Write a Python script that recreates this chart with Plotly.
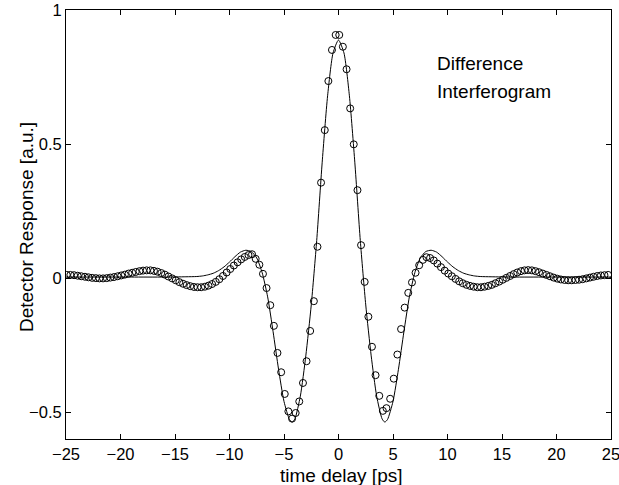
import plotly.graph_objects as go

# measured data (circles)
delay_ps = [
    -24.93, -24.60, -24.26, -23.93, -23.60, -23.26, -22.93, -22.60, -22.26, -21.93,
    -21.60, -21.26, -20.93, -20.60, -20.26, -19.93, -19.60, -19.26, -18.93, -18.60,
    -18.26, -17.93, -17.60, -17.26, -16.93, -16.60, -16.26, -15.93, -15.60, -15.26,
    -14.93, -14.60, -14.26, -13.93, -13.60, -13.26, -12.93, -12.60, -12.26, -11.93,
    -11.60, -11.26, -10.93, -10.60, -10.26, -9.93, -9.60, -9.26, -8.93, -8.60,
    -8.26, -7.93, -7.60, -7.26, -6.93, -6.60, -6.26, -5.93, -5.60, -5.26,
    -4.93, -4.60, -4.26, -3.93, -3.60, -3.26, -2.93, -2.60, -2.26, -1.93,
    -1.60, -1.26, -0.93, -0.60, -0.26, 0.07, 0.40, 0.74, 1.07, 1.40,
    1.74, 2.07, 2.40, 2.74, 3.07, 3.40, 3.74, 4.07, 4.40, 4.74,
    5.07, 5.40, 5.74, 6.07, 6.40, 6.74, 7.07, 7.40, 7.74, 8.07,
    8.40, 8.74, 9.07, 9.40, 9.74, 10.07, 10.40, 10.74, 11.07, 11.40,
    11.74, 12.07, 12.40, 12.74, 13.07, 13.40, 13.74, 14.07, 14.40, 14.74,
    15.07, 15.40, 15.74, 16.07, 16.40, 16.74, 17.07, 17.40, 17.74, 18.07,
    18.40, 18.74, 19.07, 19.40, 19.74, 20.07, 20.40, 20.74, 21.07, 21.40,
    21.74, 22.07, 22.40, 22.74, 23.07, 23.40, 23.74, 24.07, 24.40, 24.74,
]
measured = [
    0.012, 0.012, 0.011, 0.009, 0.007, 0.005, 0.003, 0.001, 0.000, -0.001,
    -0.001, 0.000, 0.002, 0.004, 0.007, 0.010, 0.013, 0.017, 0.020, 0.023,
    0.026, 0.028, 0.029, 0.029, 0.027, 0.024, 0.019, 0.013, 0.006, -0.001,
    -0.008, -0.015, -0.021, -0.026, -0.030, -0.033, -0.034, -0.034, -0.032, -0.028,
    -0.022, -0.014, -0.004, 0.008, 0.021, 0.034, 0.047, 0.059, 0.070, 0.079,
    0.086, 0.089, 0.072, 0.050, 0.016, -0.037, -0.101, -0.178, -0.279, -0.351,
    -0.432, -0.497, -0.524, -0.503, -0.460, -0.391, -0.310, -0.197, -0.086, 0.117,
    0.356, 0.552, 0.735, 0.851, 0.907, 0.907, 0.863, 0.779, 0.633, 0.499,
    0.328, 0.123, -0.014, -0.144, -0.256, -0.362, -0.439, -0.495, -0.485, -0.450,
    -0.375, -0.285, -0.190, -0.110, -0.055, -0.016, 0.020, 0.048, 0.068, 0.078,
    0.075, 0.066, 0.054, 0.041, 0.028, 0.017, 0.007, -0.003, -0.012, -0.019,
    -0.025, -0.029, -0.032, -0.034, -0.034, -0.032, -0.029, -0.025, -0.019, -0.013,
    -0.006, 0.001, 0.008, 0.015, 0.021, 0.026, 0.029, 0.030, 0.029, 0.026,
    0.022, 0.017, 0.012, 0.007, 0.002, -0.002, -0.005, -0.007, -0.008, -0.008,
    -0.007, -0.006, -0.004, -0.001, 0.002, 0.005, 0.008, 0.010, 0.011, 0.012,
]

# model curve (solid line)
model_t = [
    -25, -22, -19, -16, -14, -13, -12.5, -12, -11.5, -11, -10.5, -10, -9.5, -9,
    -8.5, -8, -7.5, -7, -6.5, -6, -5.5, -5, -4.5, -4.25, -4, -3.5, -3, -2.5, -2,
    -1.5, -1, -0.5, 0, 0.5, 1, 1.5, 2, 2.5, 3, 3.5, 4, 4.25, 4.5, 5, 5.5, 6,
    6.5, 7, 7.5, 8, 8.5, 9, 9.5, 10, 10.5, 11, 11.5, 12, 12.5, 13, 14, 16, 19,
    22, 25,
]
model_v = [
    0.004, 0.004, 0.004, 0.004, 0.005, 0.006, 0.008, 0.012, 0.018, 0.028, 0.042, 0.060, 0.080, 0.097,
    0.104, 0.099, 0.075, 0.020, -0.070, -0.200, -0.340, -0.460, -0.527, -0.537, -0.525, -0.440, -0.290, -0.100, 0.140,
    0.430, 0.680, 0.840, 0.888, 0.840, 0.680, 0.430, 0.140, -0.100, -0.290, -0.440, -0.525, -0.537, -0.527, -0.460, -0.340, -0.200,
    -0.070, 0.020, 0.075, 0.099, 0.104, 0.097, 0.080, 0.060, 0.042, 0.028, 0.018, 0.012, 0.008, 0.006, 0.005, 0.004, 0.004,
    0.004, 0.004,
]

x_ticks = [-25, -20, -15, -10, -5, 0, 5, 10, 15, 20, 25]
y_ticks = [-0.5, 0, 0.5, 1]

FONT = "Liberation Sans, Arial, Helvetica, sans-serif"
TITLE_SIZE = 19
TICK_SIZE = 16.5

fig = go.Figure()
fig.add_trace(go.Scatter(
    x=model_t, y=model_v, mode="lines",
    line=dict(color="black", width=1, shape="spline", smoothing=0.6),
    showlegend=False, hoverinfo="skip",
))
fig.add_trace(go.Scatter(
    x=delay_ps, y=measured, mode="markers",
    marker=dict(symbol="circle-open", size=7, color="black", line=dict(width=1, color="black")),
    showlegend=False,
))

fig.add_annotation(x=8.85, y=0.80, xref="x", yref="y", text="Difference", showarrow=False,
                   xanchor="left", yanchor="middle", font=dict(family=FONT, size=TITLE_SIZE, color="black"))
fig.add_annotation(x=8.85, y=0.695, xref="x", yref="y", text="Interferogram", showarrow=False,
                   xanchor="left", yanchor="middle", font=dict(family=FONT, size=TITLE_SIZE, color="black"))

# axis titles
fig.add_annotation(x=0.5046, y=-0.084, xref="paper", yref="paper", text="time delay [ps]",
                   showarrow=False, xanchor="center", yanchor="middle",
                   font=dict(family=FONT, size=TITLE_SIZE, color="black"))
fig.add_annotation(x=-0.0734, y=0.494, xref="paper", yref="paper", text="Detector Response [a.u.]",
                   showarrow=False, xanchor="center", yanchor="middle", textangle=-90,
                   font=dict(family=FONT, size=TITLE_SIZE, color="black"))

axis_common = dict(
    showline=True, linecolor="black", linewidth=1, mirror="allticks",
    ticks="inside", ticklen=5, tickwidth=1, tickcolor="black",
    showgrid=False, zeroline=False, automargin=False,
    ticklabeloverflow="allow",
    tickfont=dict(family=FONT, size=TICK_SIZE, color="black"),
)

fig.update_layout(
    width=619, height=485,
    margin=dict(l=66, r=8, t=10, b=46, autoexpand=False),
    paper_bgcolor="white", plot_bgcolor="white",
    font=dict(family=FONT, color="black"),
    xaxis=dict(range=[-25, 25], tickvals=x_ticks, **axis_common),
    yaxis=dict(range=[-0.6, 1], tickvals=y_ticks, **axis_common),
)

fig.write_html(
    "out.html",
    config={"displayModeBar": False},
    post_script="document.body.style.margin='0px';document.body.style.overflow='hidden';",
)
